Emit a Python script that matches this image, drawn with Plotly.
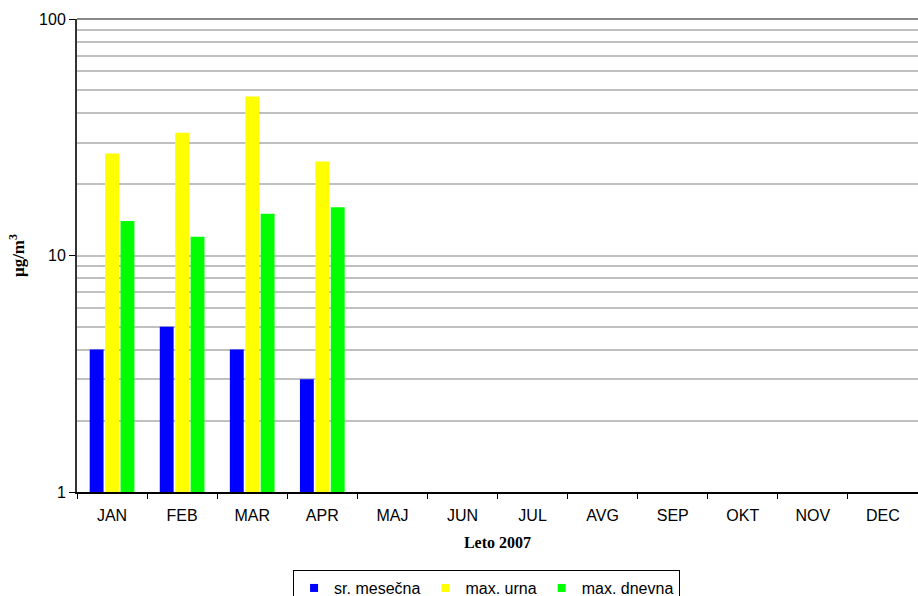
import plotly.graph_objects as go

# Monthly concentrations, 2007
months = ["JAN", "FEB", "MAR", "APR", "MAJ", "JUN", "JUL", "AVG", "SEP", "OKT", "NOV", "DEC"]
sr_mesecna = [4, 5, 4, 3, None, None, None, None, None, None, None, None]
max_urna = [27, 33, 47, 25, None, None, None, None, None, None, None, None]
max_dnevna = [14, 12, 15, 16, None, None, None, None, None, None, None, None]

series_names = ["sr. mesečna", "max. urna", "max. dnevna"]
series_colors = ["#0000FF", "#FFFF00", "#00FF00"]

y_ticks = [1, 10, 100]
y_ticktext = ["1", "10", "100"]
y_minor = [2, 3, 4, 5, 6, 7, 8, 9, 20, 30, 40, 50, 60, 70, 80, 90]

sans = "Liberation Sans, Arial, sans-serif"
serif = "Liberation Serif, Times New Roman, serif"

fig = go.Figure()
for name, vals, color in zip(series_names, [sr_mesecna, max_urna, max_dnevna], series_colors):
    fig.add_trace(go.Bar(
        x=months, y=vals, name=name, showlegend=False,
        marker=dict(color=color, line=dict(width=0)),
    ))

# legend keys drawn as small squares
for name, color in zip(series_names, series_colors):
    fig.add_trace(go.Scatter(
        x=[None], y=[None], name=name, mode="markers",
        marker=dict(symbol="square", size=8, color=color),
    ))

fig.update_layout(
    width=918, height=596,
    margin=dict(l=77, r=0, t=19, b=104, autoexpand=False),
    paper_bgcolor="white", plot_bgcolor="white",
    barmode="group", bargap=0.34, bargroupgap=0.1,
    font=dict(family=sans, size=16, color="black"),
    showlegend=True,
    legend=dict(
        orientation="h", x=0.487, xanchor="center", y=-0.165, yanchor="top",
        bordercolor="black", borderwidth=1, bgcolor="white",
        font=dict(family=sans, size=16), itemwidth=30,
        traceorder="normal", tracegroupgap=0,
    ),
)

fig.update_xaxes(
    type="category", categoryorder="array", categoryarray=months,
    showline=True, linecolor="black", linewidth=1.5,
    ticks="outside", tickson="boundaries", ticklen=5, tickcolor="black",
    ticklabelstandoff=8,
    showgrid=False, zeroline=False,
    tickfont=dict(family=sans, size=16),
    title=dict(text="<b>Leto 2007</b>", font=dict(family=serif, size=16), standoff=14),
)

fig.update_yaxes(
    type="log", range=[0, 2],
    tickvals=y_ticks, ticktext=y_ticktext,
    showline=True, linecolor="#333333", linewidth=2,
    ticks="outside", ticklen=6, tickcolor="black",
    showgrid=True, gridcolor="#c0c0c0", gridwidth=1.5,
    minor=dict(tickvals=y_minor, showgrid=True, gridcolor="#c0c0c0", gridwidth=1.5, ticks=""),
    zeroline=False,
    tickfont=dict(family=sans, size=16),
    title=dict(text="<b>μg/m<sup>3</sup></b>", font=dict(family=serif, size=17), standoff=10),
)

# plot-area top border
fig.add_shape(type="line", xref="paper", yref="paper", x0=0, x1=1, y0=1, y1=1,
              line=dict(color="#888888", width=2))

fig.write_html("out.html")
